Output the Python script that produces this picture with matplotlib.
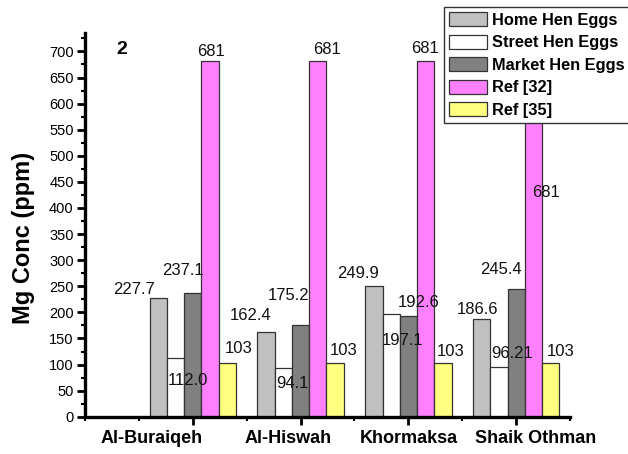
import numpy as np
import matplotlib
matplotlib.use("Agg")
import matplotlib.pyplot as plt
from matplotlib.ticker import MultipleLocator, FixedLocator

plt.rcParams['font.family'] = ['Liberation Sans', 'DejaVu Sans']

# Mg concentration (ppm) by site
sites = ["Al-Buraiqeh", "Al-Hiswah", "Khormaksa", "Shaik Othman"]
home_eggs = [227.7, 162.4, 249.9, 186.6]
street_eggs = [112.0, 94.1, 197.1, 96.21]
market_eggs = [237.1, 175.2, 192.6, 245.4]
ref_32 = [681, 681, 681, 681]
ref_35 = [103, 103, 103, 103]

series = [
    ("Home Hen Eggs", home_eggs, "#c0c0c0", ["227.7", "162.4", "249.9", "186.6"]),
    ("Street Hen Eggs", street_eggs, "#ffffff", ["112.0", "94.1", "197.1", "96.21"]),
    ("Market Hen Eggs", market_eggs, "#808080", ["237.1", "175.2", "192.6", "245.4"]),
    ("Ref [32]", ref_32, "#ff80ff", ["681", "681", "681", "681"]),
    ("Ref [35]", ref_35, "#ffff80", ["103", "103", "103", "103"]),
]

# hand-placed value label offsets (pixels from bar top centre), per series x site
label_offsets = [
    [(-24, 8), (-15, 17), (-16, 13), (-4, 10)],
    [(13, -22), (9, -16), (11, -27), (13, 13)],
    [(-10, 23), (-12, 30), (10, 14), (-15, 19)],
    [(1, 10), (9, 12), (-1, 13), (12, -131)],
    [(11, 15), (9, 13), (8, 12), (10, 12)],
]
# site names are nudged sideways from their ticks (pixels)
site_label_shift = [-41, -12, 0, 19]

fig = plt.figure(figsize=(6.28, 4.54), dpi=100)
ax = fig.add_axes([0.135, 0.082, 0.773, 0.845])

x = np.arange(1, len(sites) + 1)
width = 0.16
for i, (name, vals, color, texts) in enumerate(series):
    pos = x + (i - 2) * width
    ax.bar(pos, vals, width, color=color, edgecolor="#333333", linewidth=0.9,
           label=name, zorder=2)
    for j in range(len(sites)):
        dx, dy = label_offsets[i][j]
        ax.annotate(texts[j], (pos[j], vals[j]), xytext=(dx, dy),
                    textcoords="offset pixels", ha="center", va="center",
                    fontsize=12, color="#111111", zorder=3)

ax.set_xlim(0, 4.5)
ax.set_ylim(0, 735)
ax.set_xticks(x)
ax.set_xticklabels([])
for xi, name, shift in zip(x, sites, site_label_shift):
    ax.annotate(name, (xi, 0), xycoords=ax.get_xaxis_transform(),
                xytext=(shift, -13), textcoords="offset pixels",
                ha="center", va="top", fontsize=13, fontweight="bold")
ax.xaxis.set_minor_locator(FixedLocator([0, 0.5, 1.5, 2.5, 3.5, 4.5]))
ax.yaxis.set_major_locator(MultipleLocator(50))
ax.yaxis.set_minor_locator(MultipleLocator(25))
ax.tick_params(axis="y", which="major", labelsize=10.5, length=6, width=2, pad=2)
ax.tick_params(axis="y", which="minor", length=3, width=1.5)
ax.tick_params(axis="x", which="major", length=6, width=2)
ax.tick_params(axis="x", which="minor", length=3, width=1.5)

for side in ["top", "right"]:
    ax.spines[side].set_visible(False)
for side in ["left", "bottom"]:
    ax.spines[side].set_linewidth(2.4)

ax.set_ylabel("Mg Conc (ppm)", fontsize=17, fontweight="bold")
ax.yaxis.set_label_coords(-0.103, 0.466)
ax.text(0.34, 703, "2", fontsize=14, fontweight="bold", ha="center", va="center")

leg = ax.legend(loc="upper left", bbox_to_anchor=(444 / 628, 1 - 7 / 454),
                bbox_transform=fig.transFigure, frameon=True, fancybox=False,
                framealpha=1, edgecolor="#333333", borderpad=0.3,
                labelspacing=0.42, handlelength=2.3, handleheight=0.95,
                handletextpad=0.35, borderaxespad=0,
                prop={"weight": "bold", "size": 11.8})
leg.get_frame().set_linewidth(1.0)
leg.set_zorder(5)

fig.savefig("out.png", dpi=100)
